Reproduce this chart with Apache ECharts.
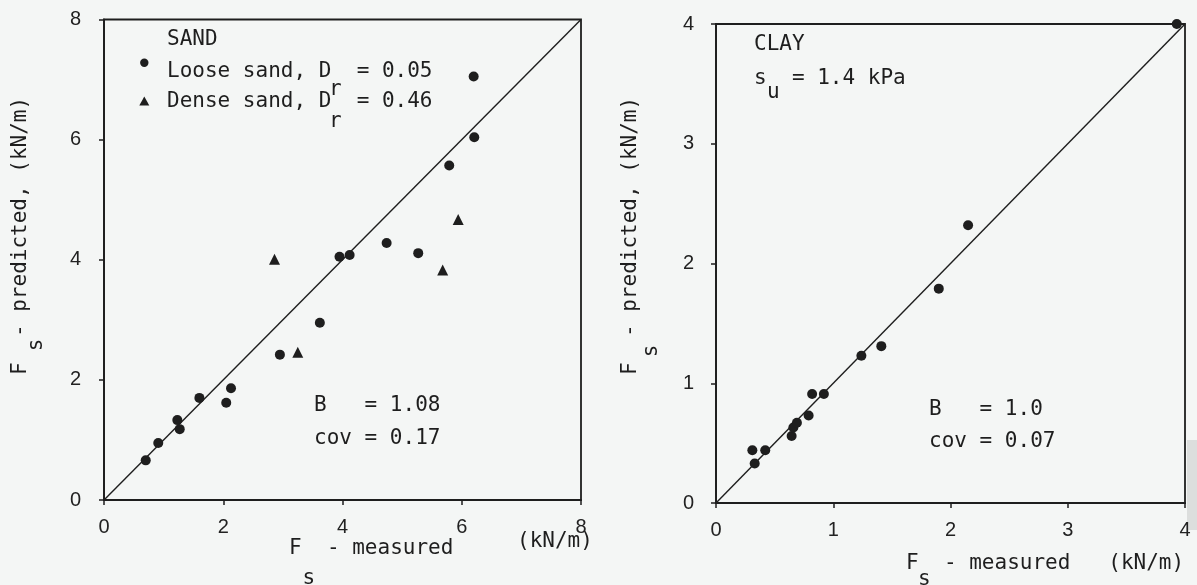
<!DOCTYPE html>
<html>
<head>
<meta charset="utf-8">
<script src="https://cdn.jsdelivr.net/npm/echarts@6/dist/echarts.min.js"></script>
<style>
  html, body { margin: 0; padding: 0; background: #f4f6f5; }
  #chart { width: 1197px; height: 585px; }
</style>
</head>
<body>
<div id="chart"></div>
<script>
// Predicted vs measured side resistance F_s (kN/m)

// Sand panel, [measured, predicted]
const looseSand = [
  [0.70, 0.66], [0.91, 0.95], [1.23, 1.33], [1.27, 1.18], [1.60, 1.70],
  [2.05, 1.62], [2.13, 1.86], [2.95, 2.42], [3.62, 2.95], [3.95, 4.05],
  [4.12, 4.08], [4.74, 4.28], [5.27, 4.11], [5.79, 5.57], [6.21, 6.04],
  [6.20, 7.05]
];
const denseSand = [
  [2.86, 4.01], [3.25, 2.46], [5.68, 3.83], [5.94, 4.67]
];
const sandLine = [[0, 0], [8, 8]];
const sandTicks = { min: 0, max: 8, interval: 2 };

// Clay panel, [measured, predicted]
const clay = [
  [0.31, 0.44], [0.33, 0.33], [0.42, 0.44], [0.645, 0.56], [0.66, 0.63],
  [0.69, 0.67], [0.79, 0.73], [0.82, 0.91], [0.92, 0.91], [1.24, 1.23],
  [1.41, 1.31], [1.90, 1.79], [2.15, 2.32], [3.93, 4.00]
];
const clayLine = [[0, 0], [4, 4]];
const clayTicks = { min: 0, max: 4, interval: 1 };

const INK = '#1e1e1e';
const MONO = '21px "DejaVu Sans Mono", monospace';

function axisBase(ticks, gridIndex, margin) {
  return {
    type: 'value', gridIndex,
    min: ticks.min, max: ticks.max, interval: ticks.interval,
    axisLine: { show: true, lineStyle: { color: INK, width: 1.8 } },
    axisTick: { show: true, inside: false, length: 5, lineStyle: { color: INK, width: 1.5 } },
    splitLine: { show: false },
    axisLabel: {
      margin,
      fontFamily: '"Liberation Sans", Arial, sans-serif',
      fontSize: 20,
      fontWeight: 'normal',
      color: '#222'
    }
  };
}

function txt(x, y, text) {
  return {
    type: 'text', x, y, silent: true,
    style: { text, font: MONO, fill: INK, align: 'left', verticalAlign: 'middle' }
  };
}

function vtxt(x, y, text, align) {
  return {
    type: 'text', x, y, rotation: Math.PI / 2, silent: true,
    style: { text, font: MONO, fill: INK, align: align || 'left', verticalAlign: 'middle' }
  };
}

const dot = { color: INK, opacity: 1 };

const chart = echarts.init(document.getElementById('chart'), null, { renderer: 'canvas' });

chart.setOption({
  backgroundColor: '#f4f6f5',
  animation: false,
  grid: [
    { left: 104, top: 19.5, width: 477, height: 480.5, show: true, borderColor: INK, borderWidth: 1.8, backgroundColor: 'transparent' },
    { left: 716, top: 24, width: 469, height: 479, show: true, borderColor: INK, borderWidth: 1.8, backgroundColor: 'transparent' }
  ],
  xAxis: [axisBase(sandTicks, 0, 17), axisBase(clayTicks, 1, 17)],
  yAxis: [axisBase(sandTicks, 0, 23), axisBase(clayTicks, 1, 22)],
  series: [
    { type: 'line', xAxisIndex: 0, yAxisIndex: 0, data: sandLine, symbol: 'none', silent: true,
      lineStyle: { color: INK, width: 1.4 }, z: 1 },
    { name: 'Loose sand', type: 'scatter', xAxisIndex: 0, yAxisIndex: 0, data: looseSand,
      symbol: 'circle', symbolSize: 10, itemStyle: dot, z: 3 },
    { name: 'Dense sand', type: 'scatter', xAxisIndex: 0, yAxisIndex: 0, data: denseSand,
      symbol: 'triangle', symbolSize: 11, itemStyle: dot, z: 3 },
    { type: 'line', xAxisIndex: 1, yAxisIndex: 1, data: clayLine, symbol: 'none', silent: true,
      lineStyle: { color: INK, width: 1.4 }, z: 1 },
    { name: 'Clay', type: 'scatter', xAxisIndex: 1, yAxisIndex: 1, data: clay,
      symbol: 'circle', symbolSize: 10, itemStyle: dot, z: 3 }
  ],
  graphic: [
    // sand panel legend
    txt(167, 40, 'SAND'),
    { type: 'circle', silent: true, shape: { cx: 144.3, cy: 62.7, r: 4.2 }, style: { fill: INK } },
    txt(167, 71.5, 'Loose sand, D  = 0.05'),
    txt(329, 89.5, 'r'),
    { type: 'polygon', silent: true, shape: { points: [[144.3, 96.5], [149.3, 105.5], [139.3, 105.5]] }, style: { fill: INK } },
    txt(167, 101.5, 'Dense sand, D  = 0.46'),
    txt(329, 121.5, 'r'),
    txt(314, 405.5, 'B   = 1.08'),
    txt(314, 438.5, 'cov = 0.17'),
    // sand panel axis titles
    txt(289, 549, 'F  - measured'),
    txt(302.5, 579, 's'),
    txt(517, 541.5, '(kN/m)'),
    vtxt(21, 375, 'F  - predicted, (kN/m)'),
    vtxt(37, 345, 's', 'center'),

    // clay panel labels
    txt(754, 45, 'CLAY'),
    txt(754, 78.5, 's  = 1.4 kPa'),
    txt(767, 92.5, 'u'),
    txt(929, 409.5, 'B   = 1.0'),
    txt(929, 441.5, 'cov = 0.07'),
    txt(906, 564, 'F  - measured   (kN/m)'),
    txt(918, 580, 's'),
    vtxt(631, 375, 'F  - predicted, (kN/m)'),
    vtxt(652, 351, 's', 'center'),

    // scanned sheet edge
    { type: 'rect', silent: true, z: -1, shape: { x: 1187, y: 440, width: 10, height: 90 }, style: { fill: '#dcdedd' } }
  ]
});
</script>
</body>
</html>
